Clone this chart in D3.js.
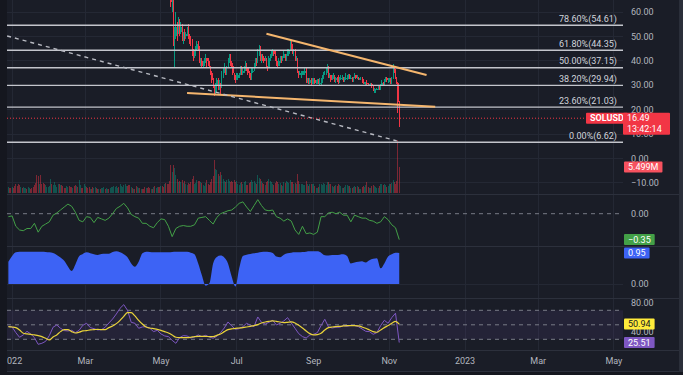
<!DOCTYPE html>
<html>
<head>
<meta charset="utf-8">
<script src="https://cdnjs.cloudflare.com/ajax/libs/d3/7.8.5/d3.min.js"></script>
<style>
	html, body { margin: 0; padding: 0; background: #1a1d27; }
	svg { display: block; font-family: Roboto, "Liberation Sans", sans-serif; }
</style>
</head>
<body>
<svg id="chart" width="683" height="375"></svg>
<script>
(function(){
	'use strict';

	// daily series, first day 2021-12-29
	var firstDay = Date.UTC(2021, 11, 29);
	var closes = [178,172,170,
		178,176,170,168,154,150,138,140,137,137,145,150,142,147,148,147,141,140,134,126,110,94,97,96,92,91,89,93,94,95,99,
		104,98,100,114,115,116,120,115,120,112,103,102,100,100,107,104,95,90,91,87,85,89,86,89,91,90,88,100,
		101,100,95,88,90,86,82,84,89,84,82,82,80,84,84,89,86,90,90,89,90,92,97,102,103,110,111,106,112,122,122,
		128,134,137,136,128,118,119,113,115,111,103,105,108,103,105,104,102,101,107,105,102,101,101,99,100,94,96,99,94,87,
		90,89,86,93,85,84,79,73,64,66,50,50,54,53,57,52,54,49,51,50,51,53,50,49,48,44,42,43,45,47,45,
		40,40,38,39,40,41,40,39,38,35,32,30,27,30,32,29,31,30,35,36,37,35,37,40,42,39,38,35,34,33,
		33,34,34,37,35,36,37,38,37,35,34,33,36,36,38,40,39,44,44,41,42,41,40,41,38,37,41,42,43,44,43,
		41,39,38,40,41,40,41,43,41,42,43,44,47,45,44,44,41,41,36,34,35,35,35,35,36,32,32,31,32,31,31,
		32,31,31,32,31,31,32,33,35,35,36,37,34,34,32,33,34,32,33,32,31,33,33,33,32,33,33,33,34,33,
		33,32,33,34,33,33,32.5,32.5,33,32,31,31,31,30.5,30,30,30.5,29.5,28,28,28,28.5,29,28.5,30,31,30,32,33,32,32,
		32,31,33,37,36,33,31,23,16.49];
	// volume, millions
	var volumes = [1.3,1.1,1.0,
		1.2,1.1,1.4,1.8,1.5,1.9,1.6,1.2,1.0,1.3,1.1,1.0,0.9,1.2,1.0,0.9,1.1,1.3,1.6,2.2,3.9,3.7,2.0,3.8,2.0,2.2,1.8,1.6,1.3,1.2,1.5,
		3.0,2.0,1.6,2.4,1.6,1.3,1.8,1.9,1.7,1.6,1.4,1.1,1.0,1.4,1.2,1.5,1.3,1.2,1.0,1.4,1.7,1.5,1.2,2.8,1.6,1.1,1.0,1.9,
		1.4,1.2,1.0,1.3,0.9,0.8,1.2,1.1,1.2,1.0,0.9,0.8,0.9,1.0,1.1,1.3,0.9,1.0,0.8,0.9,1.0,1.2,1.3,1.5,1.2,1.4,1.1,1.3,1.8,1.5,1.3,
		1.6,1.9,1.4,1.5,1.7,1.6,1.2,1.1,0.9,0.9,1.5,1.3,1.1,1.0,0.9,0.8,0.8,1.2,1.1,1.0,1.2,1.0,0.8,0.8,1.2,1.4,1.1,1.2,1.3,1.2,
		1.4,1.5,1.2,1.8,2.2,1.9,2.0,2.6,5.9,4.5,6.0,5.2,3.8,3.0,2.4,2.6,2.3,2.8,2.2,2.5,1.9,1.6,2.2,2.0,2.4,3.0,3.6,2.0,2.1,2.8,2.5,
		2.6,2.4,2.2,1.6,1.5,2.2,2.8,2.0,1.7,2.4,2.9,3.6,7.0,5.1,4.8,4.1,3.6,4.5,3.9,2.9,2.6,2.4,2.8,3.0,2.6,2.3,2.6,2.4,2.7,2.3,
		2.6,1.8,1.6,2.2,2.4,2.0,2.3,2.6,1.7,1.6,2.1,2.3,2.8,2.4,2.6,2.2,1.9,3.8,3.2,2.9,2.6,2.2,1.8,1.6,2.4,2.5,2.9,2.6,2.4,2.0,1.7,
		2.2,2.6,2.4,2.0,2.2,1.6,1.4,2.3,2.1,2.5,2.4,2.2,2.8,2.3,2.4,2.0,2.1,2.0,4.0,2.6,1.8,1.9,1.8,1.7,1.6,2.6,2.0,1.5,1.9,1.8,1.9,
		1.8,1.5,1.1,1.0,1.3,1.8,1.9,1.6,2.2,1.8,1.6,2.3,2.4,1.9,1.8,1.5,1.2,1.4,1.6,1.5,1.8,1.7,1.4,1.1,1.0,1.3,1.7,1.6,1.5,1.4,
		1.1,1.0,1.3,1.5,1.3,1.4,1.2,0.9,0.9,1.3,1.4,1.2,1.6,2.3,1.2,1.0,1.1,1.4,1.6,1.5,1.3,1.0,1.0,1.4,1.8,1.9,1.7,1.8,1.6,1.3,1.5,
		1.9,1.8,2.2,2.7,2.3,1.9,2.6,11.2,5.499];

	// highs / lows only for the days that are inside the price window (from 2022-05-08)
	var wickStart = Date.UTC(2022, 4, 8);
	var highs = [80,74,72,68,54,60,56,58,57,56,55,52,53,52,54,55,51,50,49,45,44,46,48,48,
		46,41,41,40,41,43,41,41,40,38,36,33,30,31,33,33,32,31,36,37,39,37,38,41,43,43,40,39,35,34,
		35,35,35,38,38,37,38,40,39,37,36,35,37,37,39,41,41,45,46.5,46,43,43,42,42,41,38,42,43,44,45,44,
		44,42,40,41,42,42,42,44,43,43,45,45,48.5,48,47,45,45,42,41,36,36,36,36,36,37,37,33,33,33,33,33,
		33,33,32,32.5,32.5,33,33,34,35.5,36,37,38.7,38,35,34,34,35,34,33.5,33.5,34,33.5,34,34,33.5,33.5,35,34,34.5,34.5,
		34,33.5,33.5,35,34,34,33.5,33,33.5,33.5,32.5,31.5,31.5,32,31,30.5,31,31,29.5,29,28.5,29,29.5,29.5,30.5,32,31.5,32.5,33.5,33.5,33,
		33,33,33.5,38.8,38,36.5,33.5,31.5,23.5];
	var lows = [71,62,60,46,37,49,48,51,50,51,48,47,48,49,50,49,47,46,42,40,41,42,44,44,
		39,38,37,37,38,39,37,38,37,34,31,29,25.5,26,27,28,28,26,29,33,35,34,34,37,39,38,37,34,32,31,
		32,32,33,34,34,34,35,36,36,34,33,32,32,35,36,37,38,39,42,40,39,40,39,40,37,36,37,40,41,42,42,
		40,38,37,38,39,39,40,41,40,40,42,42,44,44,43,42,40,40,35,33,34,33,34,34,34,31,31,30.5,30.5,30,30.5,
		30.5,30.5,30.5,30.5,30.5,30,30,31,32.5,34,34,35,33,33,31.5,32,32.5,31.5,31,31.5,30.5,31,32,32,31.5,31.5,32,32,32.5,32.5,
		32.5,31.5,31.5,33,32.5,32.5,32,32,32,31,30.5,30.5,29.5,30,29.5,29.5,29.5,29,27.5,27,27,28,28,28,28,29.5,29.5,29.5,31.5,31.5,31,
		31.5,30.5,30.5,32.5,35,32.5,30.5,18.5,13];

	// indicators, one sample every 3 days from 2021-12-29
	var sampleStep = 3;
	var oscValues = [-0.04,-0.03,-0.17,-0.22,-0.23,-0.20,-0.20,-0.13,-0.25,-0.17,
		-0.14,-0.11,-0.02,0.01,0.05,0.09,0.13,0.10,0.02,-0.09,
		-0.11,-0.04,-0.05,-0.12,-0.05,-0.07,-0.09,-0.06,0.00,0.07,
		0.10,0.14,0.08,-0.01,-0.04,-0.06,-0.13,-0.13,-0.17,-0.19,
		-0.12,-0.07,-0.08,-0.17,-0.31,-0.20,-0.17,-0.16,-0.17,-0.17,
		-0.15,-0.06,-0.05,-0.04,-0.09,-0.14,-0.05,0.00,0.02,0.04,
		0.05,0.09,0.14,0.16,0.09,0.03,0.11,0.19,0.11,0.05,
		0.04,0.05,-0.04,-0.06,-0.10,-0.07,-0.10,-0.22,-0.28,-0.17,
		-0.27,-0.26,-0.28,-0.25,-0.04,-0.04,0.01,0.02,0.00,0.02,
		-0.02,-0.02,-0.11,-0.02,-0.04,-0.06,-0.06,-0.09,-0.10,-0.13,
		-0.11,-0.04,-0.08,-0.15,-0.19,-0.35];
	var strengthValues = [0.68,0.86,0.97,0.99,0.99,0.99,0.99,0.99,0.99,0.99,
		0.98,0.97,0.95,0.89,0.81,0.71,0.54,0.40,0.60,0.85,
		0.92,0.97,0.94,0.91,0.89,0.92,0.93,0.93,0.98,1.00,
		0.97,0.91,0.82,0.63,0.53,0.68,0.94,0.99,0.98,0.97,
		0.97,0.97,0.97,0.97,0.98,0.99,0.99,0.99,0.99,0.96,
		0.91,0.63,0.26,-0.05,0.02,0.63,0.83,0.87,0.81,0.63,
		0.22,-0.08,0.48,0.86,0.90,0.92,0.94,0.96,0.98,0.99,
		0.98,0.95,0.84,0.82,0.90,0.94,0.96,0.97,0.97,0.98,
		0.99,1.00,1.00,1.00,0.96,0.88,0.87,0.89,0.89,0.90,
		0.91,0.86,0.63,0.66,0.68,0.70,0.66,0.73,0.77,0.79,
		0.48,0.63,0.84,0.91,0.96,0.95];
	var rsiValues = [47.5,47.0,39.2,32.8,36.0,41.0,37.4,32.3,23.1,24.5,
		27.2,35.1,46.6,49.8,45.2,42.0,41.5,42.4,39.2,42.4,
		49.3,52.1,46.1,44.7,42.9,43.3,46.6,52.5,58.0,64.9,
		72.8,77.8,70.0,53.4,52.1,45.2,47.0,47.5,45.2,40.6,
		42.4,37.4,34.6,33.7,28.6,24.5,32.3,35.1,34.6,31.8,
		33.2,36.0,33.7,35.5,33.2,31.4,34.1,39.2,45.6,53.9,
		48.4,43.8,44.7,47.5,52.1,49.3,47.5,60.8,53.4,51.1,
		53.4,56.2,49.8,52.1,55.3,59.9,52.5,45.2,37.8,33.7,
		31.8,36.0,36.9,39.2,48.9,57.6,47.0,45.6,46.6,46.6,
		48.9,47.9,49.3,48.9,47.5,44.3,41.0,40.6,36.9,39.2,
		48.9,56.2,52.1,59.9,66.0,25.51];
	var rsiMaValues = [47.5,47.0,46.1,42.9,38.3,37.4,36.9,36.0,35.1,33.7,
		31.4,29.1,33.2,36.0,40.6,43.3,43.3,40.6,38.7,39.7,
		41.5,42.0,42.9,43.3,43.8,43.3,43.3,46.1,48.4,51.6,
		56.2,61.7,66.8,66.8,62.2,56.2,51.1,47.0,45.6,44.7,
		43.8,42.4,40.6,38.7,36.0,32.8,32.3,32.3,32.3,32.8,
		33.7,34.1,34.1,34.1,33.7,33.7,35.5,37.4,40.6,43.3,
		44.3,45.2,45.6,46.1,47.0,47.9,48.9,50.2,52.5,53.9,
		54.8,55.3,54.8,53.9,53.0,53.4,53.9,52.5,49.3,45.6,
		41.5,37.8,36.0,36.5,38.3,42.9,46.1,47.0,47.5,47.9,
		48.4,48.9,48.9,48.9,48.4,47.0,45.2,42.9,40.6,39.7,
		42.9,46.1,48.9,52.1,54.8,50.94];

	var fibLevels = [0, 0.236, 0.382, 0.5, 0.618, 0.786];
	var fibPrices = [6.62, 21.03, 29.94, 37.15, 44.35, 54.61];
	var priceTicks = [60, 50, 40, 30, 20, 10, 0, -10];

	// drawings: [date, price]
	var channelLines = [
		[[Date.UTC(2022, 6, 25), 51.1], [Date.UTC(2022, 11, 1), 34.2]],
		[[Date.UTC(2022, 4, 22), 26.8], [Date.UTC(2022, 11, 8), 21.2]]
	];
	var dashedTrend = [[Date.UTC(2021, 11, 28), 50.2], [Date.UTC(2022, 10, 7), 7.2]];

	var lastPrice = 16.49, lastTime = "13:42:14", symbol = "SOLUSD";
	var lastVolumeLabel = "5.499M";

	var DAY = 864e5;
	var W = 683, H = 375;
	var left = 7, right = 623;
	var panes = { price: [0, 194], osc: [194, 246], strength: [246, 298], rsi: [298, 350] };

	var up = "#089981", down = "#f23645";
	var textColor = "#b2b5be";
	var fontSize = 9;

	var svg = d3.select("#chart");

	var x = d3.scaleUtc()
		.domain([new Date(Date.UTC(2022, 0, 1)), new Date(Date.UTC(2023, 4, 1))])
		.range([12.1, 613.9]);
	var yPrice = d3.scaleLinear().domain([0, 60]).range([158.45, 12.05]);
	var yVol = d3.scaleLinear().domain([0, 5.499]).range([193, 167]);
	var yOsc = d3.scaleLinear().domain([0, -0.35]).range([213.7, 239.6]);
	var yStr = d3.scaleLinear().domain([0, 0.95]).range([284, 253]);
	var yRsi = d3.scaleLinear().domain([30, 70]).range([339.3, 310.3]);

	function dayDate(i){ return new Date(firstDay + i * DAY); }
	function sampleDate(k){ return new Date(firstDay + k * sampleStep * DAY); }

	svg.append("rect").attr("width", W).attr("height", H).attr("fill", "#1a1d27");

	var defs = svg.append("defs");
	Object.keys(panes).forEach(function(name){
		defs.append("clipPath").attr("id", "clip-" + name)
			.append("rect")
			.attr("x", left).attr("y", panes[name][0])
			.attr("width", right - left).attr("height", panes[name][1] - panes[name][0]);
	});

	// grid
	var monthTicks = x.ticks(d3.utcMonth.every(2));
	var grid = svg.append("g").attr("stroke", "#242834").attr("stroke-width", 1).attr("shape-rendering", "crispEdges");
	grid.selectAll(".vg").data(monthTicks).enter().append("line")
		.attr("x1", function(d){ return x(d); }).attr("x2", function(d){ return x(d); })
		.attr("y1", 0).attr("y2", panes.rsi[1]);
	grid.selectAll(".hg").data(priceTicks).enter().append("line")
		.attr("x1", left).attr("x2", right)
		.attr("y1", function(d){ return yPrice(d); }).attr("y2", function(d){ return yPrice(d); });
	grid.append("line").attr("x1", left).attr("x2", right).attr("y1", yStr(0)).attr("y2", yStr(0));

	// volume overlay
	var priceG = svg.append("g").attr("clip-path", "url(#clip-price)");
	priceG.append("g").attr("shape-rendering", "crispEdges")
		.selectAll("rect").data(volumes).enter().append("rect")
		.attr("x", function(d, i){ return x(dayDate(i)) - 0.5; })
		.attr("width", 1)
		.attr("y", function(d){ return yVol(d); })
		.attr("height", function(d){ return yVol(0) - yVol(d); })
		.attr("fill", function(d, i){ return (i === 0 || closes[i] >= closes[i - 1]) ? up : down; })
		.attr("fill-opacity", 0.45);

	// candles
	var offset = Math.round((wickStart - firstDay) / DAY);
	var candles = highs.map(function(h, j){
		var i = offset + j, o = closes[i - 1], c = closes[i];
		return { date: dayDate(i), open: o, close: c, high: Math.max(h, o, c), low: Math.min(lows[j], o, c) };
	});
	var cg = priceG.append("g").attr("shape-rendering", "crispEdges");
	cg.selectAll("line").data(candles).enter().append("line")
		.attr("x1", function(d){ return x(d.date); }).attr("x2", function(d){ return x(d.date); })
		.attr("y1", function(d){ return yPrice(d.high); }).attr("y2", function(d){ return yPrice(d.low); })
		.attr("stroke", function(d){ return d.close >= d.open ? up : down; })
		.attr("stroke-width", 1);
	cg.selectAll("rect").data(candles).enter().append("rect")
		.attr("x", function(d){ return x(d.date) - 0.5; })
		.attr("width", 1.2)
		.attr("y", function(d){ return yPrice(Math.max(d.open, d.close)); })
		.attr("height", function(d){ return Math.max(1, Math.abs(yPrice(d.open) - yPrice(d.close))); })
		.attr("fill", function(d){ return d.close >= d.open ? up : down; });

	// fibonacci levels
	var fib = svg.append("g");
	fib.selectAll("line").data(fibPrices).enter().append("line")
		.attr("x1", left).attr("x2", right)
		.attr("y1", function(d){ return yPrice(d); }).attr("y2", function(d){ return yPrice(d); })
		.attr("stroke", "#c3c5cc").attr("stroke-width", 1.4);
	fib.selectAll("text").data(fibPrices).enter().append("text")
		.attr("x", 617).attr("y", function(d){ return yPrice(d) - 3.5; })
		.attr("text-anchor", "end")
		.attr("fill", "#d1d4dc")
		.style("font-size", fontSize + "px")
		.text(function(d, i){ return (fibLevels[i] * 100).toFixed(2) + "%(" + d.toFixed(2) + ")"; });

	// trend drawings
	var drawG = svg.append("g").attr("clip-path", "url(#clip-price)");
	var segment = d3.line()
		.x(function(d){ return x(new Date(d[0])); })
		.y(function(d){ return yPrice(d[1]); });
	drawG.selectAll(".chan").data(channelLines).enter().append("path")
		.attr("d", segment)
		.attr("stroke", "#f5b66e").attr("stroke-width", 2).attr("fill", "none");
	drawG.append("path").attr("d", segment(dashedTrend))
		.attr("stroke", "#b8bac2").attr("stroke-width", 1.4)
		.attr("stroke-dasharray", "4,4").attr("fill", "none");

	// last price line
	drawG.append("line")
		.attr("x1", left).attr("x2", 586)
		.attr("y1", yPrice(lastPrice)).attr("y2", yPrice(lastPrice))
		.attr("stroke", down).attr("stroke-width", 1).attr("stroke-dasharray", "1,2");

	// oscillator pane
	var oscG = svg.append("g").attr("clip-path", "url(#clip-osc)");
	oscG.append("line").attr("x1", left).attr("x2", right)
		.attr("y1", yOsc(0)).attr("y2", yOsc(0))
		.attr("stroke", "#787b86").attr("stroke-dasharray", "4,4");
	oscG.append("path")
		.datum(oscValues)
		.attr("d", d3.line()
			.x(function(d, k){ return x(sampleDate(k)); })
			.y(function(d){ return yOsc(d); }))
		.attr("fill", "none").attr("stroke", "#43a047").attr("stroke-width", 1);

	// strength pane (area)
	var strG = svg.append("g").attr("clip-path", "url(#clip-strength)");
	strG.append("path")
		.datum(strengthValues)
		.attr("d", d3.area()
			.x(function(d, k){ return x(sampleDate(k)); })
			.y0(yStr(0))
			.y1(function(d){ return yStr(d); })
			.curve(d3.curveMonotoneX))
		.attr("fill", "#3d63f5");

	// RSI pane
	var rsiG = svg.append("g").attr("clip-path", "url(#clip-rsi)");
	rsiG.append("rect")
		.attr("x", left).attr("width", right - left)
		.attr("y", yRsi(70)).attr("height", yRsi(30) - yRsi(70))
		.attr("fill", "#7e57c2").attr("fill-opacity", 0.1);
	rsiG.selectAll(".band").data([70, 50, 30]).enter().append("line")
		.attr("x1", left).attr("x2", right)
		.attr("y1", function(d){ return yRsi(d); }).attr("y2", function(d){ return yRsi(d); })
		.attr("stroke", "#787b86").attr("stroke-dasharray", "4,4");
	rsiG.append("path")
		.datum(rsiValues)
		.attr("d", d3.line()
			.x(function(d, k){ return x(sampleDate(k)); })
			.y(function(d){ return yRsi(d); }))
		.attr("fill", "none").attr("stroke", "#7e57c2").attr("stroke-width", 1);
	rsiG.append("path")
		.datum(rsiMaValues)
		.attr("d", d3.line()
			.x(function(d, k){ return x(sampleDate(k)); })
			.y(function(d){ return yRsi(d); })
			.curve(d3.curveMonotoneX))
		.attr("fill", "none").attr("stroke", "#e9d33a").attr("stroke-width", 1.2);

	// pane separators
	svg.append("g").attr("stroke", "#2c303c").attr("shape-rendering", "crispEdges")
		.selectAll("line").data([panes.osc[0], panes.strength[0], panes.rsi[0], panes.rsi[1], 371]).enter().append("line")
		.attr("x1", 0).attr("x2", W)
		.attr("y1", function(d){ return d + 0.5; }).attr("y2", function(d){ return d + 0.5; });

	// right scale labels
	var axisText = svg.append("g").attr("fill", textColor).style("font-size", fontSize + "px");
	var fmt = d3.format(".2f");
	axisText.selectAll(".pt").data(priceTicks).enter().append("text")
		.attr("x", 631).attr("y", function(d){ return yPrice(d); })
		.attr("dy", "0.35em")
		.text(function(d){ return fmt(d); });
	axisText.append("text").attr("x", 631).attr("y", yOsc(0)).attr("dy", "0.35em").text(fmt(0));
	axisText.append("text").attr("x", 631).attr("y", yStr(0)).attr("dy", "0.35em").text(fmt(0));
	axisText.selectAll(".rt").data([80, 40]).enter().append("text")
		.attr("x", 631).attr("y", function(d){ return yRsi(d); })
		.attr("dy", "0.35em")
		.text(function(d){ return fmt(d); });

	// time axis
	var timeFmt = function(d){ return d.getUTCMonth() === 0 ? d3.utcFormat("%Y")(d) : d3.utcFormat("%b")(d); };
	axisText.selectAll(".tt").data(monthTicks).enter().append("text")
		.attr("x", function(d){ return x(d); }).attr("y", 361)
		.attr("dy", "0.35em").attr("text-anchor", "middle")
		.text(timeFmt);

	// value tags
	function tag(xLeft, yc, lines, bg, fg, bold, minW){
		var g = svg.append("g");
		var h = 11 * lines.length;
		var r = g.append("rect").attr("x", xLeft).attr("y", yc - 5.5).attr("height", h).attr("rx", 1).attr("fill", bg);
		var maxW = 0;
		lines.forEach(function(t, i){
			var tx = g.append("text").attr("x", xLeft + 4).attr("y", yc + i * 11)
				.attr("dy", "0.35em").attr("fill", fg)
				.style("font-size", fontSize + "px")
				.style("font-weight", bold ? "bold" : "normal")
				.text(t);
			maxW = Math.max(maxW, tx.node().getComputedTextLength());
		});
		r.attr("width", Math.max(minW || 0, maxW + 8));
		return g;
	}
	tag(586, yPrice(lastPrice), [symbol], down, "#ffffff", true, 37);
	tag(623, yPrice(lastPrice), [lastPrice.toFixed(2), lastTime], down, "#ffffff", false, 47);
	tag(624, yVol(volumes[volumes.length - 1]), [lastVolumeLabel], "#f7525f", "#ffffff", false);
	tag(624, yOsc(oscValues[oscValues.length - 1]), [d3.format(".2f")(oscValues[oscValues.length - 1])], "#43a047", "#ffffff", false);
	tag(624, yStr(strengthValues[strengthValues.length - 1]), [fmt(strengthValues[strengthValues.length - 1])], "#3d63f5", "#ffffff", false);
	tag(624, yRsi(rsiMaValues[rsiMaValues.length - 1]), [fmt(rsiMaValues[rsiMaValues.length - 1])], "#ffeb3b", "#131722", false);
	tag(624, yRsi(rsiValues[rsiValues.length - 1]), [fmt(rsiValues[rsiValues.length - 1])], "#7e57c2", "#ffffff", false);

	// frame strips
	svg.append("rect").attr("x", 0).attr("y", 0).attr("width", left).attr("height", H).attr("fill", "#15171f");
	svg.append("rect").attr("x", 679).attr("y", 0).attr("width", 4).attr("height", H).attr("fill", "#2a2e39");
	svg.append("rect").attr("x", 0).attr("y", 372).attr("width", W).attr("height", 3).attr("fill", "#15171f");

})();
</script>
</body>
</html>
